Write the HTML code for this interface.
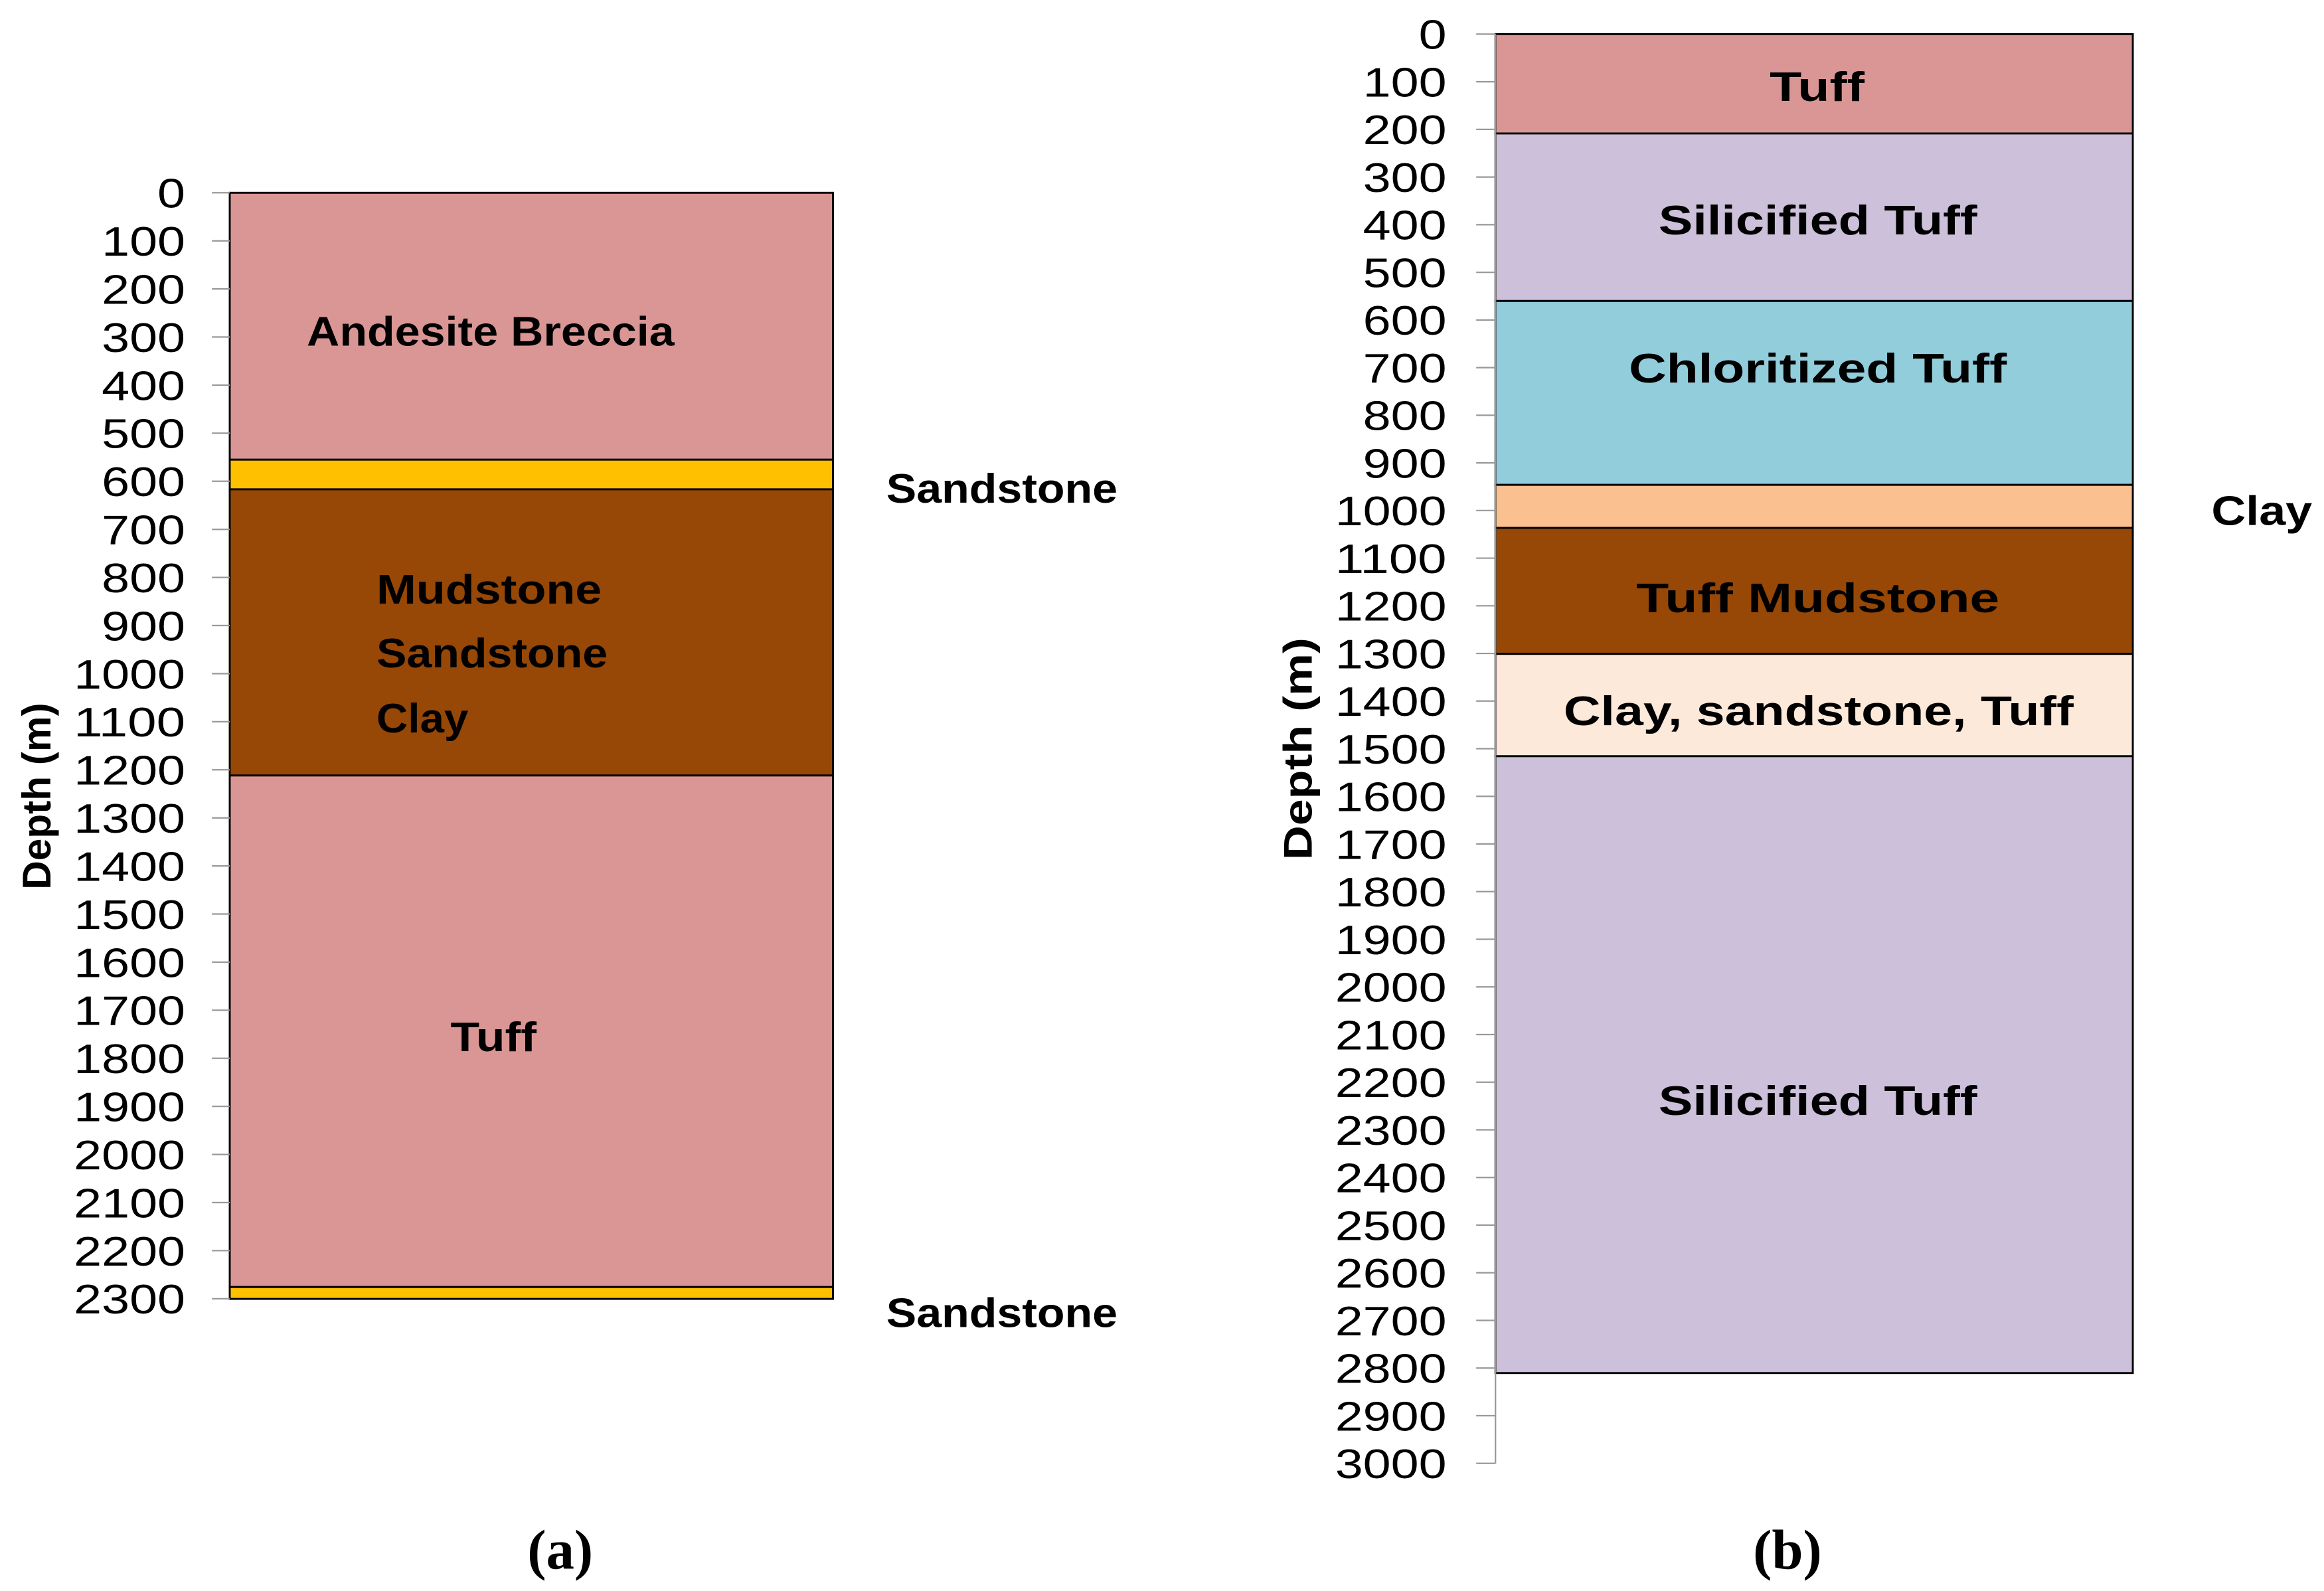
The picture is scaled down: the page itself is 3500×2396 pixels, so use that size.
<!DOCTYPE html>
<html><head><meta charset="utf-8"><style>
html,body{margin:0;padding:0;background:#fff;}
svg{display:block;}
text{font-family:"Liberation Sans",Arial,sans-serif;}
</style></head><body>
<svg id="s" width="3500" height="2396" viewBox="0 0 1568 1073" preserveAspectRatio="none" xmlns="http://www.w3.org/2000/svg">
<g stroke="#000" stroke-width="1.3">
<rect x="155" y="130" width="407" height="180" fill="#DA9694"/>
<rect x="155" y="310" width="407" height="20" fill="#FFC000"/>
<rect x="155" y="330" width="407" height="193" fill="#974706"/>
<rect x="155" y="523" width="407" height="345" fill="#DA9694"/>
<rect x="155" y="868" width="407" height="8" fill="#FFC000"/>
<rect x="1009" y="23" width="430" height="67" fill="#DA9694"/>
<rect x="1009" y="90" width="430" height="113" fill="#CCC0DA"/>
<rect x="1009" y="203" width="430" height="124" fill="#92CDDC"/>
<rect x="1009" y="327" width="430" height="29" fill="#FAC090"/>
<rect x="1009" y="356" width="430" height="85" fill="#974706"/>
<rect x="1009" y="441" width="430" height="69" fill="#FDE9D9"/>
<rect x="1009" y="510" width="430" height="416" fill="#CCC0DA"/>
</g>
<line x1="1009" y1="23" x2="1009" y2="987" stroke="#999" stroke-width="1"/>
<g id="ticks"></g>
<g font-weight="bold" font-size="28" fill="#000">
<text x="207" y="233" textLength="248" lengthAdjust="spacingAndGlyphs">Andesite Breccia</text>
<text x="254" y="407" textLength="152" lengthAdjust="spacingAndGlyphs">Mudstone</text>
<text x="254" y="450" textLength="156" lengthAdjust="spacingAndGlyphs">Sandstone</text>
<text x="254" y="494" textLength="62" lengthAdjust="spacingAndGlyphs">Clay</text>
<text x="304" y="709" textLength="58" lengthAdjust="spacingAndGlyphs">Tuff</text>
<text x="598" y="339" textLength="156" lengthAdjust="spacingAndGlyphs">Sandstone</text>
<text x="598" y="895" textLength="156" lengthAdjust="spacingAndGlyphs">Sandstone</text>
<text x="1194" y="68" textLength="64" lengthAdjust="spacingAndGlyphs">Tuff</text>
<text x="1119" y="158" textLength="215" lengthAdjust="spacingAndGlyphs">Silicified Tuff</text>
<text x="1099" y="258" textLength="255" lengthAdjust="spacingAndGlyphs">Chloritized Tuff</text>
<text x="1104" y="413" textLength="245" lengthAdjust="spacingAndGlyphs">Tuff Mudstone</text>
<text x="1055" y="489" textLength="344" lengthAdjust="spacingAndGlyphs">Clay, sandstone, Tuff</text>
<text x="1119" y="752" textLength="215" lengthAdjust="spacingAndGlyphs">Silicified Tuff</text>
<text x="1492" y="354" textLength="68" lengthAdjust="spacingAndGlyphs">Clay</text>
<text font-size="27" transform="translate(34,537) rotate(-90)" text-anchor="middle" textLength="126" lengthAdjust="spacingAndGlyphs">Depth (m)</text>
<text font-size="27" transform="translate(885,505) rotate(-90)" text-anchor="middle" textLength="150" lengthAdjust="spacingAndGlyphs">Depth (m)</text>
</g>
<g font-weight="bold" font-size="38" text-anchor="middle">
<text x="378" y="1058" style="font-family:'Liberation Serif',serif">(a)</text>
<text x="1206" y="1058" style="font-family:'Liberation Serif',serif">(b)</text>
</g>
</svg>
<script>
var g=document.getElementById('ticks'),h='';
function lab(x,y,v){var s=String(v);return '<text x="'+x+'" y="'+(y+10)+'" font-size="28" text-anchor="end" fill="#000" textLength="'+(s.length*18.8)+'" lengthAdjust="spacingAndGlyphs">'+s+'</text>';}
for(var i=0;i<=23;i++){var y=130+i*32.43;
h+='<line x1="143" y1="'+y+'" x2="155" y2="'+y+'" stroke="#999"/>';
h+=lab(125,y,i*100);}
for(var i=0;i<=30;i++){var y=23+i*32.13;
h+='<line x1="996" y1="'+y+'" x2="1009" y2="'+y+'" stroke="#999"/>';
h+=lab(976,y,i*100);}
g.innerHTML=h;
</script>
</body></html>
